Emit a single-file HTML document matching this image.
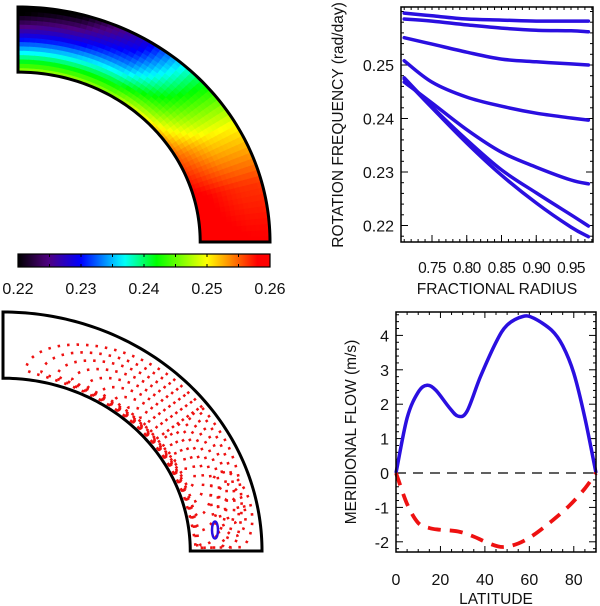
<!DOCTYPE html>
<html><head><meta charset="utf-8"><style>
html,body{margin:0;padding:0;background:#fff;}
svg{display:block;font-family:"Liberation Sans",Arial,sans-serif;}
</style></head><body>
<svg id="fig" width="600" height="606" viewBox="0 0 600 606" xmlns="http://www.w3.org/2000/svg">
<g id="wedge"></g>
<g id="cbar"></g>
<g id="rot"></g>
<g id="stream"></g>
<g id="mer"></g>
</svg>
<script>
// ---- data ----
const radii = [0.71, 0.75, 0.80, 0.85, 0.90, 0.95, 0.975];
const curveLatitudes = [0, 15, 30, 45, 60, 75, 90];
const curve1 = [0.2597, 0.2592, 0.2586, 0.2584, 0.2582, 0.2582, 0.2582];
const curve2 = [0.2586, 0.2582, 0.2575, 0.2569, 0.2565, 0.2564, 0.2562];
const curve3 = [0.2551, 0.2539, 0.2524, 0.2511, 0.2506, 0.2502, 0.2500];
const curve4 = [0.2508, 0.2468, 0.2440, 0.2423, 0.2410, 0.2401, 0.2397];
const curve5 = [0.2468, 0.2429, 0.2379, 0.2337, 0.2309, 0.2285, 0.2278];
const curve6 = [0.2476, 0.2422, 0.2360, 0.2304, 0.2261, 0.2220, 0.2199];
const curve7 = [0.2474, 0.2420, 0.2354, 0.2294, 0.2242, 0.2197, 0.2179];
const curves = [curve1, curve2, curve3, curve4, curve5, curve6, curve7];
const rotYTicks = [0.22, 0.23, 0.24, 0.25];
const rotXTicks = [0.75, 0.80, 0.85, 0.90, 0.95];
const cbarTicks = [0.22, 0.23, 0.24, 0.25, 0.26];

const latitudes = [0, 5, 10, 14, 18, 24, 28, 32, 38, 45, 50, 57, 62, 70, 75, 80, 85, 90];
const flowBlue = [0, 1.6, 2.35, 2.55, 2.4, 1.9, 1.65, 1.8, 2.8, 3.8, 4.3, 4.55, 4.5, 4.15, 3.7, 2.9, 1.6, 0];
const latRed = [0, 5, 10, 15, 20, 28, 35, 42, 48, 55, 62, 70, 78, 85, 90];
const flowRed = [0, -0.9, -1.45, -1.6, -1.65, -1.7, -1.85, -2.05, -2.15, -2.05, -1.8, -1.4, -0.95, -0.45, 0];
const merYTicks = [-2, -1, 0, 1, 2, 3, 4];
const merXTicks = [0, 20, 40, 60, 80];

const NS = "http://www.w3.org/2000/svg";
function mk(parent, tag, attrs, text) {
  const e = document.createElementNS(NS, tag);
  for (const k in attrs) e.setAttribute(k, attrs[k]);
  if (text !== undefined) e.textContent = text;
  parent.appendChild(e);
  return e;
}
const cstops = [[0,[0,0,0]],[0.12,[80,0,128]],[0.25,[0,0,255]],[0.42,[0,255,255]],[0.55,[0,255,0]],[0.75,[255,255,0]],[0.85,[255,128,0]],[0.95,[255,0,0]],[1,[255,0,0]]];
function cmap(v) {
  let f = (v - 0.22) / 0.04; f = Math.max(0, Math.min(1, f));
  for (let i = 1; i < cstops.length; i++) {
    if (f <= cstops[i][0]) {
      const a = cstops[i-1], b = cstops[i], t = (f - a[0]) / (b[0] - a[0] || 1);
      const c = a[1].map((x, j) => Math.round(x + (b[1][j] - x) * t));
      return "rgb(" + c.join(",") + ")";
    }
  }
  return "rgb(255,0,0)";
}
function interp(xs, ys, x) {
  if (x <= xs[0]) return ys[0];
  for (let i = 1; i < xs.length; i++) if (x <= xs[i]) { const t = (x - xs[i-1]) / (xs[i] - xs[i-1]); return ys[i-1] + (ys[i] - ys[i-1]) * t; }
  return ys[ys.length - 1];
}
function valueAt(r, lat) {
  const perLat = curves.map(c => interp(radii, c, r));
  return interp(curveLatitudes, perLat, lat);
}
function smoothPts(P) {
  let d = "M" + P[0][0].toFixed(1) + "," + P[0][1].toFixed(1);
  for (let i = 0; i < P.length - 1; i++) {
    const p0 = P[Math.max(0, i - 1)], p1 = P[i], p2 = P[i + 1], p3 = P[Math.min(P.length - 1, i + 2)];
    const c1 = [p1[0] + (p2[0] - p0[0]) / 6, p1[1] + (p2[1] - p0[1]) / 6];
    const c2 = [p2[0] - (p3[0] - p1[0]) / 6, p2[1] - (p3[1] - p1[1]) / 6];
    d += "C" + c1.map(v=>v.toFixed(1)).join(",") + " " + c2.map(v=>v.toFixed(1)).join(",") + " " + p2.map(v=>v.toFixed(1)).join(",");
  }
  return d;
}

// ---- top-left wedge ----
const W = document.getElementById("wedge");
const wc = {x: 18, y: 242, rx: 252, ry: 235, r0: 0.723};
function wpt(r, lat) { const a = lat * Math.PI / 180; return [wc.x + r * wc.rx * Math.cos(a), wc.y - r * wc.ry * Math.sin(a)]; }
for (let lat = 0; lat < 90; lat += 1.5) {
  for (let r = wc.r0; r < 1; r += 0.0185) {
    const r2 = Math.min(1, r + 0.0185), l2 = Math.min(90, lat + 1.5);
    const p = [wpt(r, lat), wpt(r2, lat), wpt(r2, l2), wpt(r, l2)];
    const col = cmap(valueAt(Math.min(0.975, 0.71 + (r - wc.r0) / (1 - wc.r0) * 0.265 + 0.009), lat + 0.75));
    const cell = mk(W, "polygon", {points: p.map(q => q.join(",")).join(" "), fill: col, stroke: col, "stroke-width": 0.8});
    
    
  }
}
function wedgeOutline(parent, c, r0) {
  let d = "";
  for (let i = 0; i <= 90; i++) { const a = i * Math.PI / 180; d += (i ? "L" : "M") + (c.x + c.rx * Math.cos(a)) + "," + (c.y - c.ry * Math.sin(a)); }
  for (let i = 90; i >= 0; i--) { const a = i * Math.PI / 180; d += "L" + (c.x + r0 * c.rx * Math.cos(a)) + "," + (c.y - r0 * c.ry * Math.sin(a)); }
  d += "Z";
  return mk(parent, "path", {d: d, fill: "none", stroke: "#000", "stroke-width": 3, "stroke-linejoin": "miter"});
}
const wo = wedgeOutline(W, wc, wc.r0);



// ---- colorbar ----
const CB = document.getElementById("cbar");
const defs = mk(document.getElementById("fig"), "defs", {});
const lg = mk(defs, "linearGradient", {id: "cg", x1: 0, x2: 1, y1: 0, y2: 0});
for (let i = 0; i <= 40; i++) mk(lg, "stop", {offset: i / 40, "stop-color": cmap(0.22 + 0.04 * i / 40)});
const cbx0 = 18, cbx1 = 270;
const cbr = mk(CB, "rect", {x: cbx0, y: 254, width: cbx1 - cbx0, height: 13, fill: "url(#cg)", stroke: "#000", "stroke-width": 1.2});


function cbX(v) { return cbx0 + (v - 0.22) / 0.04 * (cbx1 - cbx0); }
for (let v = 0.22; v <= 0.2601; v += 0.005) { mk(CB, "line", {x1: cbX(v), x2: cbX(v), y1: 254, y2: 257, stroke: "#000"}); mk(CB, "line", {x1: cbX(v), x2: cbX(v), y1: 264, y2: 267, stroke: "#000"}); }
cbarTicks.forEach(v => {
  const t = mk(CB, "text", {x: cbX(v), y: 294, "font-size": 16, "text-anchor": "middle", fill: "#111"}, v.toFixed(2));
  
  
});

// ---- top-right rotation chart ----
const R = document.getElementById("rot");
const rb = {x0: 401, x1: 593, y0: 7, y1: 242};
function rx(v) { return 432 + (v - 0.75) * 695; }
function ry(v) { return 65 - (v - 0.25) * 5350; }
for (let v = 0.71; v <= 0.981; v += 0.01) { mk(R, "line", {x1: rx(v), x2: rx(v), y1: rb.y1, y2: rb.y1 - 3, stroke: "#000"}); mk(R, "line", {x1: rx(v), x2: rx(v), y1: rb.y0, y2: rb.y0 + 3, stroke: "#000"}); }
for (let v = 0.218; v <= 0.2601; v += 0.002) { mk(R, "line", {x1: rb.x0, x2: rb.x0 + 3, y1: ry(v), y2: ry(v), stroke: "#000"}); mk(R, "line", {x1: rb.x1, x2: rb.x1 - 3, y1: ry(v), y2: ry(v), stroke: "#000"}); }
rotYTicks.forEach(v => {
  mk(R, "line", {x1: rb.x0, x2: rb.x0 + 7, y1: ry(v), y2: ry(v), stroke: "#000"});
  mk(R, "line", {x1: rb.x1, x2: rb.x1 - 7, y1: ry(v), y2: ry(v), stroke: "#000"});
  const t = mk(R, "text", {x: 394, y: ry(v) + 6, "font-size": 16, "text-anchor": "end", fill: "#111"}, v.toFixed(2));
  
  
});
rotXTicks.forEach(v => {
  mk(R, "line", {x1: rx(v), x2: rx(v), y1: rb.y1, y2: rb.y1 - 7, stroke: "#000"});
  const t = mk(R, "text", {x: rx(v), y: 273, "font-size": 15.5, "text-anchor": "middle", fill: "#111", "letter-spacing": "-0.6"}, v.toFixed(2));
  
  
});
curves.forEach((c, i) => {
  const d = smoothPts(radii.map((r, j) => [rx(r), ry(c[j])]));
  const p = mk(R, "path", {d: d, fill: "none", stroke: "#2a0fe0", "stroke-width": 3.5, "stroke-linejoin": "round", "stroke-linecap": "round"});
  
  
});
const rbox = mk(R, "rect", {x: rb.x0, y: rb.y0, width: rb.x1 - rb.x0, height: rb.y1 - rb.y0, fill: "none", stroke: "#000", "stroke-width": 1.5});


const rxl = mk(R, "text", {x: 497, y: 294, "font-size": 15.5, "text-anchor": "middle", fill: "#111"}, "FRACTIONAL RADIUS");


const ryl = mk(R, "text", {x: 0, y: 0, "font-size": 15.5, "text-anchor": "middle", fill: "#111", transform: "translate(343,125) rotate(-90)"}, "ROTATION FREQUENCY (rad/day)");



// ---- bottom-left streamlines ----
const S = document.getElementById("stream");
const sc = {x: 3, y: 551, rx: 259, ry: 239, r0: 0.723};
function spt(r, lat) { const a = lat * Math.PI / 180; return [sc.x + r * sc.rx * Math.cos(a), sc.y - r * sc.ry * Math.sin(a)]; }
for (let k = 1; k <= 9; k++) {
  let d = "";
  for (let i = 0; i <= 120; i++) {
    const t = i / 120 * 2 * Math.PI;
    const ct = Math.cos(t);
    let r = 0.765 + (ct > 0 ? 0.024 * k : 0.004 * k) * ct;
    r = Math.max(0.735, Math.min(0.975, r));
    let lat = 38 + (4 + 4.6 * k) * Math.sin(t);
    lat = Math.max(1, Math.min(84, lat));
    const p = spt(r, lat);
    d += (i ? "L" : "M") + p[0].toFixed(1) + "," + p[1].toFixed(1);
  }
  const pl = mk(S, "path", {d: d, fill: "none", stroke: "#ee1111", "stroke-width": 2.6, "stroke-dasharray": "2.5 7"});
  
  
}
for (let k = 1; k <= 3; k++) {
  let d = "";
  for (let i = 0; i <= 60; i++) {
    const t = i / 60 * 2 * Math.PI;
    const r = 0.9 + 0.025 * k * Math.cos(t), lat = 11 + 3.5 * k * Math.sin(t);
    const p = spt(r, Math.max(1, lat));
    d += (i ? "L" : "M") + p[0].toFixed(1) + "," + p[1].toFixed(1);
  }
  const pl = mk(S, "path", {d: d, fill: "none", stroke: "#ee1111", "stroke-width": 2.6, "stroke-dasharray": "2.5 7"});
  
  
}
const bl = mk(S, "ellipse", {cx: 215, cy: 530, rx: 3, ry: 8.5, fill: "none", stroke: "#2a0fe0", "stroke-width": 2.5});


const so = wedgeOutline(S, sc, sc.r0);



// ---- bottom-right meridional flow ----
const M = document.getElementById("mer");
const mb = {x0: 396, x1: 596, y0: 312, y1: 552};
function mx(v) { return 396 + v * 200 / 90; }
function my(v) { return 473 - v * 34.4; }
for (let v = 0; v <= 90; v += 5) { const L = v % 20 === 0 ? 6 : 3; mk(M, "line", {x1: mx(v), x2: mx(v), y1: mb.y1, y2: mb.y1 - L, stroke: "#000"}); mk(M, "line", {x1: mx(v), x2: mx(v), y1: mb.y0, y2: mb.y0 + L, stroke: "#000"}); }
for (let v = -2.2; v <= 4.7; v += 0.2) { const iv = Math.abs(v - Math.round(v)) < 0.01; const L = iv ? 7 : 3; mk(M, "line", {x1: mb.x0, x2: mb.x0 + L, y1: my(v), y2: my(v), stroke: "#000"}); mk(M, "line", {x1: mb.x1, x2: mb.x1 - L, y1: my(v), y2: my(v), stroke: "#000"}); }
merYTicks.forEach(v => {
  const t = mk(M, "text", {x: 389, y: my(v) + 6, "font-size": 16, "text-anchor": "end", fill: "#111"}, String(v));
  
  
});
merXTicks.forEach(v => {
  const t = mk(M, "text", {x: mx(v), y: 585, "font-size": 16, "text-anchor": "middle", fill: "#111"}, String(v));
  
  
});
const zl = mk(M, "line", {x1: mx(0), x2: mx(90), y1: my(0), y2: my(0), stroke: "#000", "stroke-width": 1.2, "stroke-dasharray": "10 7"});


const bc = mk(M, "path", {d: smoothPts(latitudes.map((x, i) => [mx(x), my(flowBlue[i])])), fill: "none", stroke: "#2a0fe0", "stroke-width": 3.5});


const rc = mk(M, "path", {d: smoothPts(latRed.map((x, i) => [mx(x), my(flowRed[i])])), fill: "none", stroke: "#ee1111", "stroke-width": 3.8, "stroke-dasharray": "13 9"});


const mbox = mk(M, "rect", {x: mb.x0, y: mb.y0, width: mb.x1 - mb.x0, height: mb.y1 - mb.y0, fill: "none", stroke: "#000", "stroke-width": 1.5});


const mxl = mk(M, "text", {x: 496, y: 604, "font-size": 15.5, "text-anchor": "middle", fill: "#111"}, "LATITUDE");


const myl = mk(M, "text", {x: 0, y: 0, "font-size": 15.5, "text-anchor": "middle", fill: "#111", transform: "translate(356,432) rotate(-90)"}, "MERIDIONAL FLOW (m/s)");


</script>
</body></html>
